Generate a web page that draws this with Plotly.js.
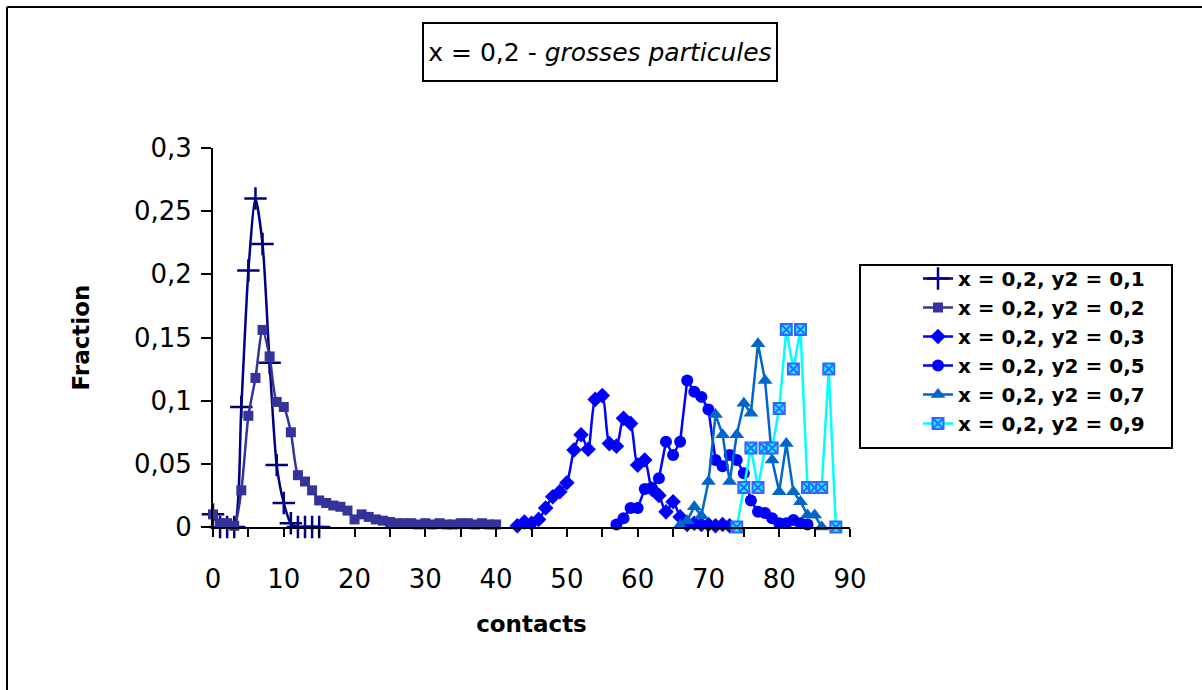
<!DOCTYPE html>
<html>
<head>
<meta charset="utf-8">
<script src="https://cdn.plot.ly/plotly-3.0.1.min.js"></script>
<style>html,body{margin:0;padding:0;background:#fff;}#chart{width:1202px;height:690px;}</style>
</head>
<body>
<div id="chart"></div>
<script>
// ---- data ----
const seriesNames = [
  "x = 0,2, y2 = 0,1",
  "x = 0,2, y2 = 0,2",
  "x = 0,2, y2 = 0,3",
  "x = 0,2, y2 = 0,5",
  "x = 0,2, y2 = 0,7",
  "x = 0,2, y2 = 0,9"
];
const x1 = [0,1,2,3,4,5,6,7,8,9,10,11,12,13,14,15];
const y1 = [0.01,0,0,0,0.095,0.203,0.26,0.224,0.13,0.049,0.019,0.003,0,0,0,0];

const x2 = [0,1,2,3,4,5,6,7,8,9,10,11,12,13,14,15,16,17,18,19,20,21,22,23,24,25,26,27,28,29,30,31,32,33,34,35,36,37,38,39,40];
const y2 = [0.01,0.003,0.003,0.001,0.029,0.088,0.118,0.156,0.135,0.099,0.095,0.075,0.041,0.036,0.029,0.021,0.019,0.017,0.016,0.013,0.006,0.01,0.008,0.006,0.005,0.004,0.003,0.003,0.003,0.002,0.003,0.002,0.003,0.002,0.002,0.003,0.003,0.002,0.003,0.002,0.002];

const x3 = [43,44,45,46,47,48,49,50,51,52,53,54,55,56,57,58,59,60,61,62,63,64,65,66,67,68,69,70,71,72,73];
const y3 = [0.001,0.004,0.003,0.006,0.015,0.024,0.028,0.035,0.061,0.073,0.0615,0.101,0.104,0.066,0.064,0.086,0.082,0.049,0.053,0.03,0.025,0.012,0.02,0.008,0.002,0.003,0.002,0.002,0.001,0.002,0.001];

const x4 = [57,58,59,60,61,62,63,64,65,66,67,68,69,70,71,72,73,74,75,76,77,78,79,80,81,82,83,84];
const y4 = [0.002,0.007,0.015,0.015,0.03,0.031,0.0385,0.0675,0.057,0.0675,0.116,0.107,0.103,0.093,0.053,0.048,0.057,0.053,0.0425,0.021,0.012,0.011,0.007,0.003,0.003,0.0055,0.003,0.002];

const x5 = [66,67,68,69,70,71,72,73,74,75,76,77,78,79,80,81,82,83,84,85,86];
const y5 = [0.0016,0.005,0.016,0.009,0.036,0.089,0.073,0.036,0.073,0.098,0.09,0.145,0.116,0.053,0.028,0.066,0.028,0.02,0.0095,0.0095,0];

const x6 = [74,75,76,77,78,79,80,81,82,83,84,85,86,87,88];
const y6 = [0,0.03125,0.0625,0.03125,0.0625,0.0625,0.09375,0.15625,0.125,0.15625,0.03125,0.03125,0.03125,0.125,0];

const xTitle = "contacts";
const yTitle = "Fraction";
const chartTitle = "x = 0,2 - <i>grosses particules</i>";

// ---- styles ----
const FONT = "'Comic Sans MS', 'DejaVu Sans', sans-serif";
function tr(x, y, i, color, marker, shape) {
  return {
    x: x, y: y, name: seriesNames[i], type: 'scatter', mode: 'lines+markers',
    legendgroup: 'g' + i, cliponaxis: false,
    line: {color: color, width: 2.5, shape: shape || 'linear', smoothing: 0.7},
    marker: marker
  };
}
const traces = [
  tr(x1, y1, 0, '#000080', {symbol: 'cross-thin', size: 16, line: {color: '#000080', width: 2.5}}, 'spline'),
  tr(x2, y2, 1, '#333399', {symbol: 'square', size: 10, color: '#333399'}, 'spline'),
  tr(x3, y3, 2, '#0000FF', {symbol: 'diamond', size: 12, color: '#0000FF'}, 'spline'),
  tr(x4, y4, 3, '#0000FF', {symbol: 'circle', size: 12, color: '#0000FF'}),
  tr(x5, y5, 4, '#0066CC', {symbol: 'triangle-up', size: 13, color: '#0066CC'}),
  tr(x6, y6, 5, '#00FFFF', {symbol: 'square-x', size: 11, color: '#00FFFF', line: {color: '#3366FF', width: 2}})
];

const L = 213, R = 850, T = 148, B = 527, W = 1202, H = 690;
const px = v => (v - L) / (R - L);
const py = v => (B - v) / (B - T);

const layout = {
  width: W, height: H,
  margin: {l: L, r: W - R, t: T, b: H - B, pad: 0},
  paper_bgcolor: '#fff', plot_bgcolor: '#fff',
  separators: ', ',
  font: {family: FONT, color: '#000', size: 26},
  showlegend: true,
  xaxis: {
    range: [0, 90], dtick: 10, tick0: 0, showgrid: false, zeroline: false,
    showline: true, linecolor: '#000', linewidth: 2,
    ticks: 'outside', ticklen: 8, tickwidth: 2, tickcolor: '#000',
    minor: {dtick: 5, ticks: 'outside', ticklen: 8, tickwidth: 2, tickcolor: '#000', showgrid: false},
    tickfont: {family: FONT, size: 26, color: '#000'},
    ticklabelstandoff: 20,
    title: {text: '<b>' + xTitle + '</b>', font: {family: FONT, size: 23, color: '#000'}, standoff: 23}
  },
  yaxis: {
    range: [0, 0.3], dtick: 0.05, tick0: 0, showgrid: false, zeroline: false,
    showline: true, linecolor: '#000', linewidth: 2,
    ticks: 'outside', ticklen: 10, tickwidth: 2, tickcolor: '#000',
    tickfont: {family: FONT, size: 26, color: '#000'},
    ticklabelstandoff: 4,
    title: {text: '<b>' + yTitle + '</b>', font: {family: FONT, size: 23, color: '#000'}, standoff: 38}
  },
  legend: {
    x: px(918), y: py(259), xanchor: 'left', yanchor: 'top',
    bgcolor: 'rgba(0,0,0,0)', borderwidth: 0,
    traceorder: 'grouped', tracegroupgap: 0,
    font: {family: FONT, size: 20, color: '#000', weight: 'bold'}
  },
  shapes: [
    {type: 'rect', xref: 'paper', yref: 'paper', x0: px(860), x1: px(1172), y0: py(448), y1: py(265),
     line: {color: '#000', width: 2}, fillcolor: 'rgba(0,0,0,0)', layer: 'below'},
    {type: 'line', xref: 'paper', yref: 'paper', x0: px(7), x1: px(1202), y0: py(7), y1: py(7), line: {color: '#000', width: 2}},
    {type: 'line', xref: 'paper', yref: 'paper', x0: px(7), x1: px(7), y0: py(7), y1: py(690), line: {color: '#000', width: 2}}
  ],
  annotations: [
    {xref: 'paper', yref: 'paper', x: px(600), y: py(52), xanchor: 'center', yanchor: 'middle',
     text: chartTitle, showarrow: false, width: 350, height: 54, borderpad: 1,
     bordercolor: '#000', borderwidth: 2, bgcolor: '#fff',
     font: {family: FONT, size: 25, color: '#000'}}
  ]
};

Plotly.newPlot('chart', traces, layout, {displayModeBar: false, staticPlot: true});
</script>
</body>
</html>
